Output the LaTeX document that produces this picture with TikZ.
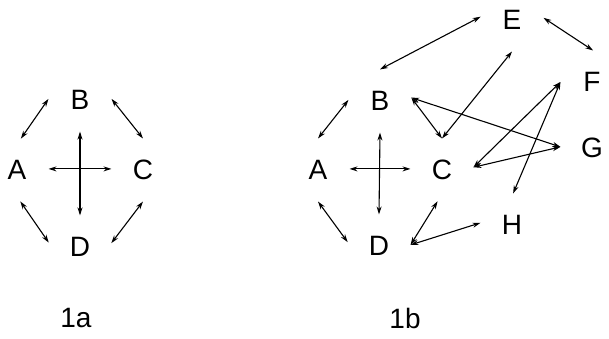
\documentclass[tikz,border=0pt]{standalone}
\usepackage{fontspec}
\setmainfont{Liberation Sans}
\usetikzlibrary{arrows.meta}
\begin{document}
\begin{tikzpicture}
  [x=1pt,y=-1pt,>={Stealth[length=8pt,width=5pt]},line width=1.1pt,
   every node/.style={circle,inner sep=0pt,minimum size=62pt,font=\fontsize{28}{32}\selectfont}]
  \useasboundingbox (0,0) rectangle (609,339);
  % graph 1a
  \node (A1) at (17,170) {A};
  \node (B1) at (80,100) {B};
  \node (C1) at (143,170) {C};
  \node (D1) at (80,247) {D};
  \foreach \from/\to in {A1.83/B1.178,B1.2/C1.90,A1.-84/D1.172,C1.-90/D1.7,A1.2/C1.178,B1.-90/D1.90}
    \draw[<->] (\from) -- (\to);
  \node (l1) at (76,318) {1a};
  % graph 1b
  \node (A2) at (318,170) {A};
  \node (B2) at (380,101) {B};
  \node (C2) at (442,170) {C};
  \node (D2) at (379,246) {D};
  \node (E2) at (512,20) {E};
  \node (F2) at (592,82) {F};
  \node (G2) at (592,148) {G};
  \node (H2) at (512,225) {H};
  \foreach \from/\to in {E2.174/B2.90,E2.4/F2.88,E2.-90/C2.90,B2.6/C2.90,B2.6/G2.178,F2.180/C2.5,F2.180/H2.88,G2.178/C2.5,C2.-98/D2.2,D2.2/H2.176,A2.90/B2.178,A2.-90/D2.173,A2.2/C2.178,B2.-90/D2.90}
    \draw[<->] (\from) -- (\to);
  \node (l2) at (405,318) {1b};
\end{tikzpicture}
\end{document}
